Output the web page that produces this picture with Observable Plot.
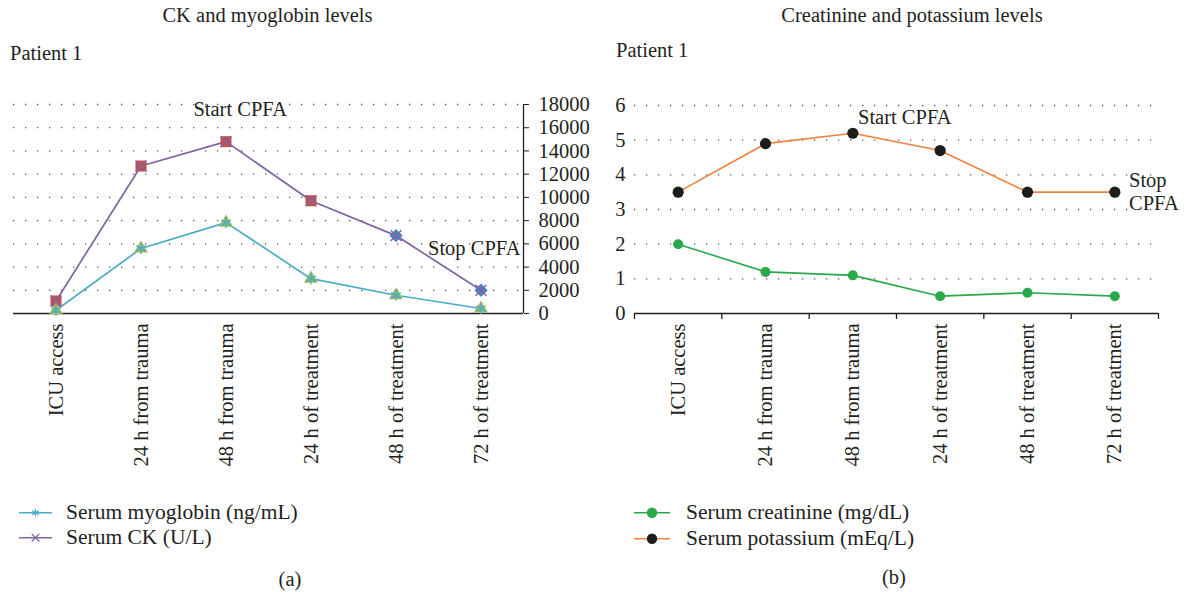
<!DOCTYPE html>
<html>
<head>
<meta charset="utf-8">
<script src="https://cdn.jsdelivr.net/npm/d3@7"></script>
<script src="https://cdn.jsdelivr.net/npm/@observablehq/plot@0.6"></script>
<style>
  html, body { margin: 0; padding: 0; background: #fff; }
  #wrap { position: relative; width: 1184px; height: 592px; overflow: hidden; background: #fff; font-family: "Liberation Serif", serif; }
  #wrap > svg, #wrap > figure { position: absolute; top: 0; margin: 0; }
</style>
</head>
<body>
<div id="wrap"></div>
<script>
// ---------- data ----------
const categories = ["ICU access", "24 h from trauma", "48 h from trauma", "24 h of treatment", "48 h of treatment", "72 h of treatment"];
const myoglobin = [280, 5600, 7830, 3000, 1570, 430];      // ng/mL
const ck = [1080, 12700, 14800, 9710, 6710, 2000];          // U/L
const creatinine = [2.0, 1.2, 1.1, 0.5, 0.6, 0.5];          // mg/dL
const potassium = [3.5, 4.9, 5.2, 4.7, 3.5, 3.5];           // mEq/L
const leftTicks = [0, 2000, 4000, 6000, 8000, 10000, 12000, 14000, 16000, 18000];
const rightTicks = [0, 1, 2, 3, 4, 5, 6];
const leftTitle = "CK and myoglobin levels";
const rightTitle = "Creatinine and potassium levels";
const leftSeries = ["Serum myoglobin (ng/mL)", "Serum CK (U/L)"];
const rightSeries = ["Serum creatinine (mg/dL)", "Serum potassium (mEq/L)"];

// ---------- build ----------
const n = categories.length;
const rows = categories.map((c, i) => ({i, pos: i + 0.5, cat: c, myo: myoglobin[i], ck: ck[i], crea: creatinine[i], k: potassium[i]}));
const centers = rows.map(d => d.pos);
const bounds = d3.range(n + 1);

const ink = "#231f20";
const purple = "#8064a2", teal = "#4bacc6", red = "#c0504d", blue = "#4f81bd", olive = "#9bbb59";
const green = "#2aa84a", orange = "#f0813e", black = "#1d1d1b";
const FONT = "Liberation Serif";
const FS = 20.5;
const grid = {stroke: "#555", strokeOpacity: 1, strokeWidth: 1.3, strokeDasharray: "1.3,10.7"};

const wrap = document.getElementById("wrap");

const left = Plot.plot({
  width: 592, height: 592,
  marginLeft: 13, marginRight: 69, marginTop: 104, marginBottom: 279,
  style: {fontFamily: FONT, fontSize: FS + "px", color: ink, background: "transparent", overflow: "visible"},
  x: {domain: [0, n], axis: null, label: null},
  y: {domain: [0, 18000], axis: null, label: null},
  marks: [
    Plot.gridY(leftTicks.slice(1), grid),
    Plot.ruleY([0], {stroke: ink, strokeWidth: 1.6}),
    Plot.ruleX([n], {y1: 0, y2: 18000, stroke: ink, strokeWidth: 1.3}),
    Plot.axisY({anchor: "right", label: null, ticks: leftTicks, tickFormat: d => String(d), tickSize: 5, tickPadding: 10, fontSize: FS}),
    Plot.axisX({anchor: "bottom", label: null, ticks: centers, tickFormat: v => categories[Math.floor(v)], tickRotate: -90, tickSize: 0, tickPadding: 10, fontSize: FS}),
    Plot.line(rows, {x: "pos", y: "ck", stroke: purple, strokeWidth: 1.7}),
    Plot.line(rows, {x: "pos", y: "myo", stroke: teal, strokeWidth: 1.7}),
    Plot.dot(rows.filter(d => d.i < 4), {x: "pos", y: "ck", symbol: "square", fill: red, r: 6.2}),
    Plot.dot(rows.filter(d => d.i >= 4), {x: "pos", y: "ck", symbol: "diamond2", fill: blue, r: 6}),
    Plot.dot(rows, {x: "pos", y: "ck", symbol: "times", stroke: purple, strokeWidth: 1.4, r: 5}),
    Plot.dot(rows, {x: "pos", y: "myo", symbol: "triangle", fill: olive, r: 5.2}),
    Plot.dot(rows, {x: "pos", y: "myo", symbol: "asterisk", stroke: teal, strokeWidth: 1.4, r: 5.2})
  ]
});
left.style.left = "0px";
wrap.appendChild(left);

const right = Plot.plot({
  width: 592, height: 592,
  marginLeft: 42, marginRight: 26, marginTop: 105, marginBottom: 279,
  style: {fontFamily: FONT, fontSize: FS + "px", color: ink, background: "transparent", overflow: "visible"},
  x: {domain: [0, n], axis: null, label: null},
  y: {domain: [0, 6], axis: null, label: null},
  marks: [
    Plot.gridY(rightTicks.slice(1), grid),
    Plot.ruleY([0], {stroke: ink, strokeWidth: 1.6}),
    Plot.axisY({anchor: "left", label: null, ticks: rightTicks, tickFormat: d => String(d), tickSize: 0, tickPadding: 9, fontSize: FS}),
    Plot.axisX({anchor: "bottom", label: null, ticks: bounds, tickFormat: () => "", tickSize: 6, strokeWidth: 1.3}),
    Plot.axisX({anchor: "bottom", label: null, ticks: centers, tickFormat: v => categories[Math.floor(v)], tickRotate: -90, tickSize: 0, tickPadding: 10, fontSize: FS}),
    Plot.line(rows, {x: "pos", y: "k", stroke: orange, strokeWidth: 1.6}),
    Plot.line(rows, {x: "pos", y: "crea", stroke: green, strokeWidth: 1.6}),
    Plot.dot(rows, {x: "pos", y: "k", fill: black, r: 5.6}),
    Plot.dot(rows, {x: "pos", y: "crea", fill: green, r: 5})
  ]
});
right.style.left = "592px";
wrap.appendChild(right);

// ---------- titles, annotations, legends ----------
const ns = "http://www.w3.org/2000/svg";
const ov = d3.select(wrap).append("svg")
  .attr("xmlns", ns).attr("width", 1184).attr("height", 592)
  .style("position", "absolute").style("left", "0px").style("top", "0px")
  .style("font-family", FONT).style("font-size", FS + "px");

function txt(x, y, s, anchor = "start", size = FS) {
  ov.append("text").attr("x", x).attr("y", y).attr("fill", ink).attr("text-anchor", anchor).style("font-size", size + "px").text(s);
}
txt(267.5, 22, leftTitle, "middle");
txt(10, 60, "Patient 1");
txt(287, 116, "Start CPFA", "end");
txt(428, 255, "Stop CPFA");
txt(912, 22, rightTitle, "middle");
txt(616, 57, "Patient 1");
txt(858, 124, "Start CPFA");
txt(1129, 187, "Stop");
txt(1129, 210, "CPFA");
txt(290, 586, "(a)", "middle");
txt(894, 584, "(b)", "middle");

// left legend
const symA = d3.symbol().type(d3.symbolAsterisk).size(40);
const symT = d3.symbol().type(d3.symbolTimes).size(40);
[[teal, symA, 512.7], [purple, symT, 537.7]].forEach(([c, s, y], k) => {
  ov.append("line").attr("x1", 19).attr("x2", 52).attr("y1", y).attr("y2", y).attr("stroke", c).attr("stroke-width", 1.6);
  ov.append("path").attr("d", s()).attr("transform", `translate(35.5,${y})`).attr("stroke", c).attr("stroke-width", 1.3).attr("fill", "none");
  txt(66, y + 5.8, leftSeries[k], "start", 21.5);
});
// right legend
[[green, green, 512.7], [orange, black, 538.7]].forEach(([c, f, y], k) => {
  ov.append("line").attr("x1", 634).attr("x2", 670).attr("y1", y).attr("y2", y).attr("stroke", c).attr("stroke-width", 1.6);
  ov.append("circle").attr("cx", 652).attr("cy", y).attr("r", 5.2).attr("fill", f);
  txt(686, y + 5.8, rightSeries[k], "start", 21.5);
});
</script>
</body>
</html>
